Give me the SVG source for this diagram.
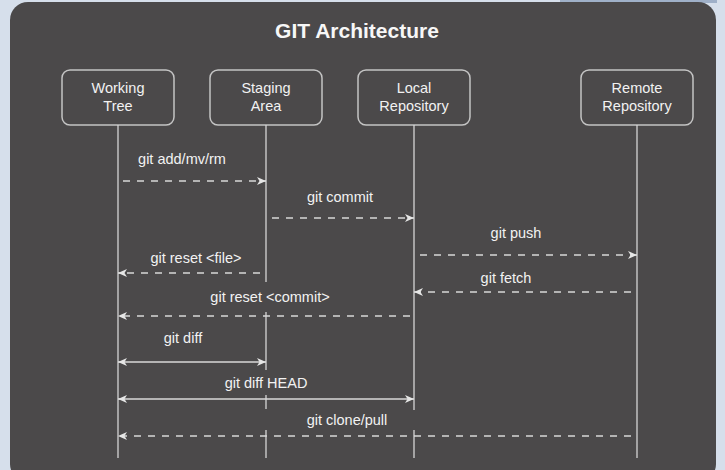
<svg xmlns="http://www.w3.org/2000/svg" width="725" height="470" viewBox="0 0 725 470">
  <style>
    .node rect { fill: none; stroke: #c4c4c4; stroke-width: 1.5; }
    .nlabel { font-family: "Liberation Sans", Arial, sans-serif; font-size: 14.5px; fill: #f2f2f2; text-anchor: middle; }
    .life { fill: none; stroke: #d4d4d4; stroke-width: 1.3; }
    .msg { fill: none; stroke: #d8d8d8; stroke-width: 1.4; }
    .dash { stroke-dasharray: 7 7; }
    .mlabel { font-family: "Liberation Sans", Arial, sans-serif; font-size: 14.5px; fill: #f2f2f2; text-anchor: middle; }
    .title { font-family: "Liberation Sans", Arial, sans-serif; font-size: 21px; font-weight: bold; fill: #f7f7f7; text-anchor: middle; }
  </style>
  <defs>
    <marker id="ah" viewBox="0 0 9 8" refX="9" refY="4" markerWidth="9" markerHeight="8" markerUnits="userSpaceOnUse" orient="auto-start-reverse">
      <path d="M0,0 L9,4 L0,8 L2.5,4 z" fill="#e6e6e6"/>
    </marker>
  </defs>

  <rect x="0" y="0" width="725" height="470" fill="#d6dfeb"/>
  <rect x="560" y="0" width="157" height="3" fill="#9fb0c8"/>
  <rect x="10" y="2" width="706" height="480" rx="18" ry="18" fill="#4b494a"/>

  <text class="title" x="357" y="38">GIT Architecture</text>

  <g id="working-tree" class="node">
    <rect x="62" y="70" width="112" height="55" rx="8"/>
    <text class="nlabel" x="118" y="93">Working</text>
    <text class="nlabel" x="118" y="111">Tree</text>
  </g>
  <g id="staging-area" class="node">
    <rect x="210" y="70" width="112" height="55" rx="8"/>
    <text class="nlabel" x="266" y="93">Staging</text>
    <text class="nlabel" x="266" y="111">Area</text>
  </g>
  <g id="local-repository" class="node">
    <rect x="358" y="70" width="112" height="55" rx="8"/>
    <text class="nlabel" x="414" y="93">Local</text>
    <text class="nlabel" x="414" y="111">Repository</text>
  </g>
  <g id="remote-repository" class="node">
    <rect x="581" y="70" width="112" height="55" rx="8"/>
    <text class="nlabel" x="637" y="93">Remote</text>
    <text class="nlabel" x="637" y="111">Repository</text>
  </g>

  <g id="connectors">
    <!-- lifelines -->
    <path class="life" d="M118,125 V458"/>
    <path class="life" d="M266,125 V282 M266,312 V370 M266,395 V409 M266,430 V458"/>
    <path class="life" d="M414,125 V410 M414,430 V458"/>
    <path class="life" d="M637,125 V458"/>

    <!-- messages -->
    <line class="msg dash" x1="123" y1="181" x2="266" y2="181" marker-end="url(#ah)"/>
    <line class="msg dash" x1="272" y1="218" x2="414" y2="218" marker-end="url(#ah)"/>
    <line class="msg dash" x1="420" y1="255" x2="637" y2="255" marker-end="url(#ah)"/>
    <line class="msg dash" x1="260" y1="273" x2="118" y2="273" marker-end="url(#ah)"/>
    <line class="msg dash" x1="631" y1="292" x2="414" y2="292" marker-end="url(#ah)"/>
    <line class="msg dash" x1="410" y1="316" x2="118" y2="316" marker-end="url(#ah)"/>
    <line class="msg" x1="118" y1="362" x2="266" y2="362" marker-start="url(#ah)" marker-end="url(#ah)"/>
    <line class="msg" x1="118" y1="399" x2="414" y2="399" marker-start="url(#ah)" marker-end="url(#ah)"/>
    <line class="msg dash" x1="631" y1="436" x2="118" y2="436" marker-end="url(#ah)"/>

    <!-- labels -->
    <text class="mlabel" x="182" y="164">git add/mv/rm</text>
    <text class="mlabel" x="340" y="202">git commit</text>
    <text class="mlabel" x="516" y="238">git push</text>
    <text class="mlabel" x="196" y="263">git reset &lt;file&gt;</text>
    <text class="mlabel" x="506" y="283">git fetch</text>
    <text class="mlabel" x="270" y="302">git reset &lt;commit&gt;</text>
    <text class="mlabel" x="183" y="343">git diff</text>
    <text class="mlabel" x="266" y="388">git diff HEAD</text>
    <text class="mlabel" x="347" y="425">git clone/pull</text>
  </g>
</svg>
